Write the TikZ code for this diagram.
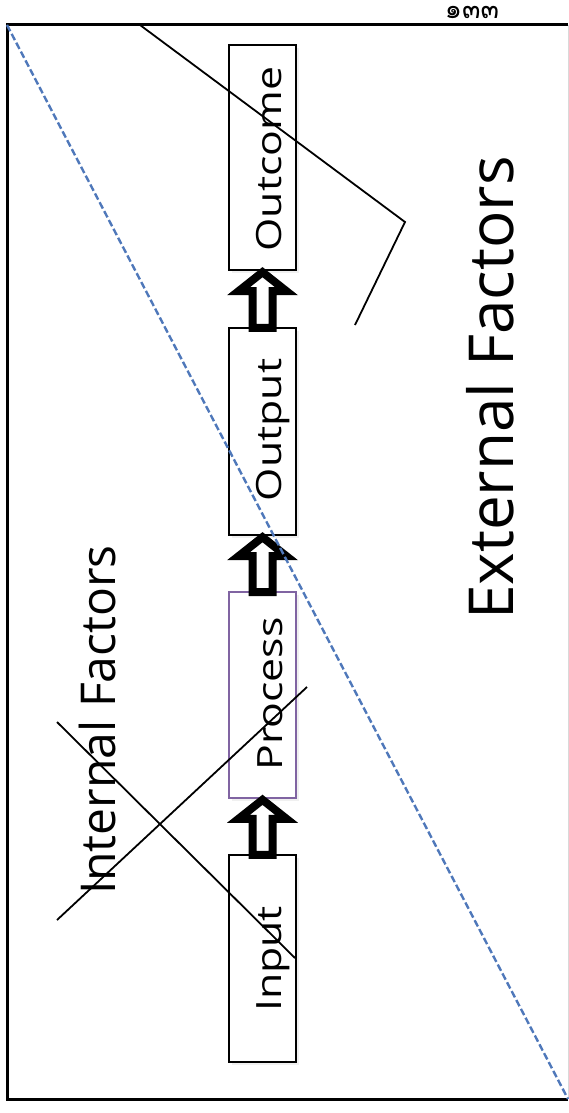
\documentclass[tikz,border=0pt]{standalone}
\usepackage{fontspec}
\setmainfont{Open Sans}
\newfontfamily\thaifont[Script=Thai]{Loma}
\usetikzlibrary{shadows,calc}
\definecolor{dashblue}{HTML}{4F78BA}
\definecolor{procpurple}{HTML}{8064A2}
\newcommand{\stagetext}[1]{\scalebox{1.07}[0.87]{#1}}
\begin{document}
\begin{tikzpicture}[x=1pt,y=-1pt,
  stagebox/.style={draw=black, line width=2.4pt, fill=white, inner sep=0pt,
    minimum width=67pt,
    drop shadow={opacity=0.12, shadow xshift=3pt, shadow yshift=-3pt}},
  stagelabel/.style={rotate=90, anchor=base, font=\fontsize{40}{48}\selectfont},
  blockarrow/.style={draw=black, line width=8pt, fill=white, line join=miter,
    drop shadow={opacity=0.15, shadow xshift=3pt, shadow yshift=-3pt}},
  crossline/.style={draw=black, line width=1.8pt},
  divider/.style={draw=dashblue, line width=2.4pt, dash pattern=on 7pt off 3pt},
  frameline/.style={draw=black, line width=3pt}]
\useasboundingbox (0,0) rectangle (569,1113);
% frame
\coordinate (ftr) at (568,25);
\coordinate (ftl) at (7,25);
\coordinate (fbl) at (7,1099);
\coordinate (fbr) at (568,1099);
\draw[frameline] (ftr) -- (ftl) -- (fbl) -- (fbr);
\draw[black!15, line width=1pt] (ftr) -- (fbr);
% page number
\node[font=\thaifont\fontsize{27}{32}\selectfont] (pg) at (472,12) {๑๓๓};
% boxes
\node[stagebox, minimum height=225pt] (outcome) at (262.5,157.5) {};
\node[stagebox, minimum height=207pt] (output) at (262.5,431.5) {};
\node[stagebox, draw=procpurple, line width=1.6pt, minimum height=206pt] (process) at (262.5,695) {};
\node[stagebox, minimum height=207pt] (input) at (262.5,958.5) {};
\node[stagelabel] (outcometext) at (281,159) {\stagetext{Outcome}};
\node[stagelabel] (outputtext) at (281,430) {\stagetext{Output}};
\node[stagelabel] (processtext) at (282,694) {\stagetext{Process}};
\node[stagelabel] (inputtext) at (281,959) {\stagetext{Input}};
% block arrows
\foreach \up/\lo in {outcome/output, output/process, process/input}{
  \path[blockarrow] let \p1=(\up.south), \p2=(\lo.north) in
    (\x1,\y1-1pt) -- (\x1+24pt,\y1-20pt) -- (\x1+10pt,\y1-20pt)
    -- (\x1+10pt,\y2-1pt) -- (\x1-10pt,\y2-1pt) -- (\x1-10pt,\y1-20pt)
    -- (\x1-24pt,\y1-20pt) -- cycle;
}
% factor labels
\node[rotate=90, anchor=base, font=\fontsize{48}{56}\selectfont] (internal) at (115,720) {Internal Factors};
\node[rotate=90, anchor=base, font=\fontsize{62}{74}\selectfont] (external) at (513,388) {External Factors};
% dashed divider
\draw[divider] (ftl) -- (fbr);
% black strokes
\coordinate (s1) at (140,25);
\coordinate (s2) at (405,222);
\coordinate (s3) at (355,325);
\draw[crossline] (s1) -- (s2) -- (s3);
\coordinate (x1a) at (57,722);
\coordinate (x1b) at (295,958);
\coordinate (x2a) at (57,920);
\coordinate (x2b) at (307,687);
\draw[crossline] (x1a) -- (x1b);
\draw[crossline] (x2a) -- (x2b);
\end{tikzpicture}
\end{document}
